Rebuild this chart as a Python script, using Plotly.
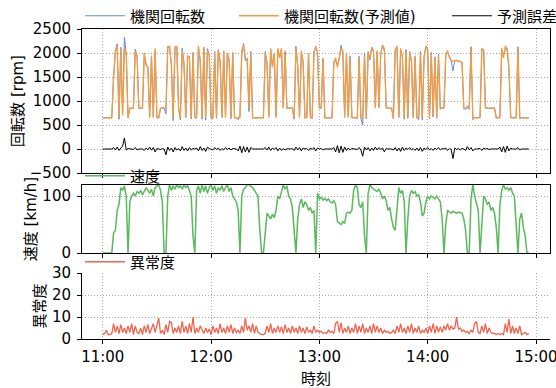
import plotly.graph_objects as go
from plotly.subplots import make_subplots
from datetime import datetime, timedelta

# ---------------- data (one value per minute from 11:00) ----------------
start_time = "2021-01-01 11:00"

rpm_pred = [
    650, 650, 650, 650, 650, 650,
    1500, 2050, 2150, 650,
    2100, 700, 2100, 2000, 650, 850, 850, 850, 2050, 1950,
    850, 850, 850, 2000, 1750, 1700, 650, 1950, 650, 2100,
    650, 650, 850, 850, 850, 850, 2100, 2150, 1750, 650,
    2100, 2150, 850, 650, 2050, 1800, 650, 1950, 1900, 650,
    2000, 650, 650, 2150, 1800, 650, 2100, 650, 2050, 1950,
    650, 650, 2000, 650, 2050, 1850, 650, 2050, 650, 2000,
    1850, 650, 2000, 650, 650, 650, 650, 2050, 2150, 1900,
    1850, 850, 2000, 650, 650, 650, 650, 650, 650, 650,
    2000, 1800, 650, 2100, 1700, 2000, 650, 2100, 1900, 2100,
    850, 2050, 850, 850, 850, 850, 650, 2100, 1750, 650,
    2050, 1800, 650, 650, 2000, 650, 650, 2000, 2150, 2000,
    850, 850, 1900, 650, 650, 650, 650, 650, 1800, 1900,
    1700, 1950, 2100, 2050, 650, 2000, 650, 1950, 650, 650,
    650, 650, 1900, 650, 650, 1950, 650, 2000, 1900, 2100,
    2050, 850, 2050, 850, 2000, 2150, 2100, 850, 850, 850,
    850, 650, 2050, 2150, 650, 2100, 1900, 650, 2050, 650,
    2000, 1850, 650, 1950, 650, 650, 2000, 650, 1900, 2150,
    2050, 650, 2000, 700, 1900, 650, 1950, 850, 850, 850,
    1950, 2050, 1900, 1850, 1830, 1830, 1850, 1820, 1830, 1800,
    850, 850, 850, 850, 2100, 650, 650, 650, 650, 650,
    2100, 2050, 850, 850, 850, 850, 850, 850, 650, 650,
    650, 2100, 1900, 2150, 2050, 1700, 650, 650, 650, 650,
    2100, 650, 650, 650, 650, 650, 650,
]

rpm_err = [
    0, 0, 0, 0, 0, 0,
    30, -20, 40, -30,
    20, 60, 230, -20, 10, 0, 5, -10, 30, -20,
    0, 5, 0, -30, 20, -15, 40, -25, 30, -60,
    10, 0, -10, 5, 0, -120, 40, -30, 20, -60,
    30, -20, 10, -40, 50, -30, 20, -40, 30, -20,
    10, 0, 20, -40, 50, -30, 20, -50, 40, 10,
    0, -20, 30, -10, 20, -30, 10, -20, 30, -10,
    20, -20, 10, 0, 0, -40, 60, -80, 50, -60,
    40, -70, 30, 0, 0, 5, 0, 0, 0, 0,
    30, -20, 40, -30, 20, -10, 30, -40, 20, -30,
    10, -20, 5, 0, 0, 10, -30, 40, -20, 30,
    -40, 20, 0, 10, -30, 20, -10, 30, -40, 20,
    0, 10, -20, 0, 0, 0, 0, 0, 30, -60,
    70, -80, 60, -70, 40, -30, 20, -20, 10, 0,
    0, -10, 30, -20, -150, 40, -20, 30, -40, 20,
    -30, 40, -20, 30, -10, 20, -60, 10, 0, 5,
    0, -20, 30, -40, 20, -50, 40, -30, 20, -10,
    30, -20, 10, -30, 20, -40, 30, -50, 20, -10,
    30, -20, 10, -30, 20, -10, 30, -20, 10, 0,
    20, -30, 10, -10, -200, 20, -10, 10, -20, 10,
    0, -30, 50, -20, 30, -40, 0, 0, 0, 10,
    -30, 20, 0, 10, -10, 0, 5, 0, 0, 0,
    40, -60, 50, -70, 60, -40, 20, 0, 0, 0,
    30, -20, 0, 0, 0, 0, 0,
]

speed = [
    0, 0, 0, 0, 0, 0,
    35, 40, 75, 85,
    115, 110, 118, 100, 0, 90, 100, 105, 100, 108,
    105, 110, 102, 108, 115, 110, 105, 112, 100, 115,
    118, 120, 110, 90, 0, 0, 100, 120, 110, 118,
    112, 120, 115, 118, 112, 120, 115, 118, 110, 100,
    30, 0, 110, 118, 105, 120, 108, 118, 105, 115,
    120, 110, 118, 105, 115, 110, 118, 108, 115, 120,
    108, 115, 100, 95, 90, 75, 0, 100, 112, 115,
    120, 120, 118, 115, 110, 105, 100, 40, 0, 0,
    40, 70, 65, 60, 68, 62, 75, 100, 95, 110,
    120, 112, 118, 100, 95, 80, 40, 0, 60, 85,
    95, 80, 90, 85, 75, 80, 70, 75, 0, 105,
    95, 98, 93, 96, 92, 95, 90, 88, 92, 85,
    55, 52, 50, 55, 52, 70, 72, 70, 75, 110,
    120, 115, 85, 80, 90, 30, 0, 105, 120, 115,
    112, 110, 108, 112, 105, 95, 100, 92, 75, 80,
    60, 45, 40, 75, 115, 105, 110, 90, 0, 60,
    100, 110, 105, 108, 100, 102, 90, 65, 70, 90,
    100, 95, 100, 98, 95, 100, 95, 90, 60, 0,
    50, 75, 72, 70, 73, 72, 70, 72, 71, 70,
    60, 40, 0, 0, 95, 120, 100, 85, 75, 0,
    60, 100, 95, 85, 90, 75, 80, 70, 45, 0,
    85, 110, 120, 112, 115, 110, 115, 105, 100, 40,
    0, 60, 70, 45, 30, 0, 0,
]

anomaly = [
    2, 2.5, 4, 2, 2, 2.5,
    7, 3, 6, 2.5, 6.5, 3, 5,
    2.5, 6, 3, 7, 2, 6, 3,
    2.5, 5, 2, 6, 3,
    6.5, 2.5, 5, 7, 3, 6, 9.5,
    2.5, 4, 2, 6.5, 3, 8,
    7.5, 2.5, 5, 3, 6, 2.5, 8,
    3, 6, 2.5, 7, 3, 10, 2.5,
    5, 3, 6, 4, 2.5, 5, 3,
    4.5, 2, 6, 3, 5, 2.5, 7,
    3, 5, 2.5, 6, 3, 6.5, 2.5,
    5, 3, 4, 2.5, 6, 3, 9.5,
    4, 6, 3, 7, 2.5, 6, 3,
    2.5, 2, 2, 2.5,
    6, 3, 7, 2.5, 5, 3, 6,
    3, 5.5, 2.5, 6.5, 3, 5, 2.5,
    6, 3, 5, 2.5, 6, 3, 5,
    2.5, 5.5, 3, 4, 2.5, 6, 3,
    4, 3, 3.5, 2.5, 3, 2.5, 4,
    3, 3.5, 2.5, 7, 8, 3,
    7.5, 2.5, 5, 3, 6, 2.5, 5,
    3, 7, 2.5, 6, 3, 7, 2.5,
    5, 3, 6, 2.5, 7, 3, 6,
    3, 5, 2.5, 4, 3, 3.5, 2.5,
    3, 4, 2.5, 6, 3, 7, 3,
    5, 2.5, 6, 3, 7, 2.5, 5,
    3, 6, 2.5, 4, 3, 5, 2.5,
    6, 3, 7, 2.5, 6, 3, 5.5,
    3, 6, 4, 7, 4, 6, 4.5,
    5, 10, 4.5, 5, 3.5, 4, 3,
    3.5, 2.5, 4, 3, 7, 8, 3,
    2.5, 6, 3, 7, 2.5, 5, 3,
    2.5, 2.5, 2, 2.5, 2, 2.5, 2,
    7, 3, 9, 2.5, 6, 2.5, 5,
    2.5, 6, 2, 2.5, 3, 2, 2.5,
]

legend_names = ["機関回転数", "機関回転数(予測値)", "予測誤差", "速度", "異常度"]
y_titles = ["回転数 [rpm]", "速度 [km/h]", "異常度"]
x_title = "時刻"

# ---------------- build ----------------
t0 = datetime.strptime(start_time, "%Y-%m-%d %H:%M")


def minutes(n):
    return [t0 + timedelta(minutes=i) for i in range(n)]


rpm_actual = [p + e for p, e in zip(rpm_pred, rpm_err)]

FONT = "DejaVu Sans, Noto Sans CJK JP, sans-serif"
FS = 15

fig = make_subplots(rows=3, cols=1)

fig.add_trace(go.Scatter(x=minutes(len(rpm_actual)), y=rpm_actual, mode="lines",
                         name=legend_names[0], line=dict(color="#6688d8", width=1),
                         legend="legend"), row=1, col=1)
fig.add_trace(go.Scatter(x=minutes(len(rpm_pred)), y=rpm_pred, mode="lines",
                         name=legend_names[1], line=dict(color="#f39c42", width=1.3),
                         legend="legend2"), row=1, col=1)
fig.add_trace(go.Scatter(x=minutes(len(rpm_err)), y=rpm_err, mode="lines",
                         name=legend_names[2], line=dict(color="black", width=1),
                         legend="legend3"), row=1, col=1)
fig.add_trace(go.Scatter(x=minutes(len(speed)), y=speed, mode="lines",
                         name=legend_names[3], line=dict(color="#5cb85c", width=1.5),
                         legend="legend4"), row=2, col=1)
fig.add_trace(go.Scatter(x=minutes(len(anomaly)), y=anomaly, mode="lines",
                         name=legend_names[4], line=dict(color="#f0644f", width=1.3),
                         legend="legend5"), row=3, col=1)

xr = ["2021-01-01 10:48:30", "2021-01-01 15:07:45"]
L, R, T, B = 82, 6, 29, 49
W, H = 556, 388
PH = H - T - B


def py(pix):
    return (H - B - pix) / PH


def px(pix):
    return (pix - L) / (W - L - R)


domains = [[py(173), 1.0], [py(253), py(185)], [0.0, py(273)]]

grid = dict(showgrid=True, gridcolor="#a8a8a8", gridwidth=1, griddash="1px,2px")
for i in range(3):
    xa = dict(range=xr, type="date", tickformat="%H:%M", dtick=3600000,
              tick0="2021-01-01 11:00", ticks="outside", ticklen=4, tickwidth=1,
              tickcolor="black", showline=True, linecolor="black", linewidth=1,
              showticklabels=(i == 2), zeroline=False, automargin=False,
              ticklabeloverflow="allow", tickfont=dict(size=FS), **grid)
    ya = dict(domain=domains[i], ticks="outside", ticklen=4, tickwidth=1,
              tickcolor="black", showline=True, linecolor="black", linewidth=1,
              zeroline=False, automargin=False, ticklabelstandoff=3,
              tickfont=dict(size=FS), **grid)
    if i < 2:
        xa["mirror"] = True
        ya["mirror"] = True
    fig.update_xaxes(xa, row=i + 1, col=1)
    fig.update_yaxes(ya, row=i + 1, col=1)

tf = dict(size=FS, family=FONT, color="black")
fig.update_yaxes(range=[-500, 2500], dtick=500, title=dict(text=y_titles[0], standoff=2, font=tf), row=1, col=1)
fig.update_yaxes(range=[0, 119.5], tickvals=[0, 100], title=dict(text=y_titles[1], standoff=2, font=tf), row=2, col=1)
fig.update_yaxes(range=[0, 30], dtick=10, title=dict(text=y_titles[2], standoff=2, font=tf), row=3, col=1)
fig.update_xaxes(title=dict(text=x_title, standoff=9, font=tf), row=3, col=1)


def leg(xpix, ypix):
    return dict(x=px(xpix), y=py(ypix), xanchor="left", yanchor="middle",
                orientation="h", bgcolor="rgba(0,0,0,0)", borderwidth=0,
                itemwidth=40, font=dict(size=FS, family=FONT, color="black"))


fig.update_layout(
    width=W, height=H,
    margin=dict(l=L, r=R, t=T, b=B, pad=0, autoexpand=False),
    paper_bgcolor="white", plot_bgcolor="white",
    font=dict(family=FONT, size=FS, color="black"),
    showlegend=True,
    legend=leg(80, 16),
    legend2=leg(234, 16),
    legend3=leg(447, 16),
    legend4=leg(80, 176),
    legend5=leg(80, 262),
)

fig.write_html("out.html", config={"displayModeBar": False},
               post_script="document.body.style.margin='0';document.body.style.overflow='hidden';")
